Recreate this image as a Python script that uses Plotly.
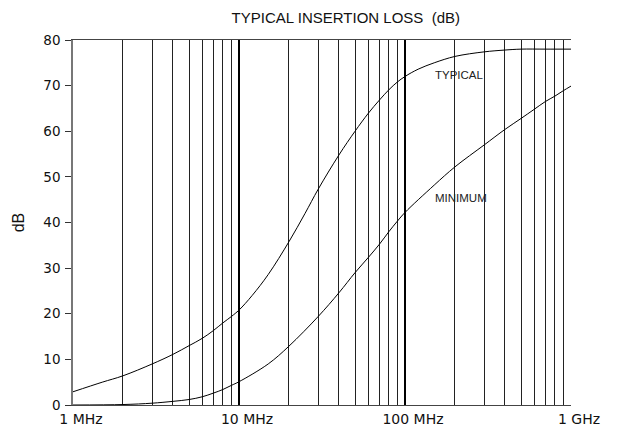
import plotly.graph_objects as go

freq_typ_mhz = [1, 1.5, 2, 3, 4, 5, 6, 7, 8, 9, 10, 12, 15, 20, 25, 30, 40, 50, 60, 70, 80, 90,
                100, 120, 150, 200, 300, 400, 500, 700, 1000]
typical_db = [2.9, 5.0, 6.4, 9.0, 11.1, 13.0, 14.6, 16.3, 18.0, 19.4, 20.8, 24.0, 28.6, 35.8,
              42.0, 47.3, 54.8, 60.0, 63.9, 66.8, 69.1, 70.8, 72.0, 73.6, 75.0, 76.4, 77.4,
              77.8, 78.0, 78.0, 78.0]

freq_min_mhz = [1, 2, 3, 4, 5, 6, 7, 8, 9, 10, 15, 20, 30, 40, 50, 60, 70, 80, 90,
                100, 150, 200, 300, 400, 500, 600, 700, 800, 900, 1000]
minimum_db = [0.0, 0.1, 0.4, 0.8, 1.2, 1.8, 2.6, 3.4, 4.3, 5.1, 9.0, 12.9, 19.4, 24.6, 29.0,
              32.3, 35.2, 38.0, 40.3, 42.2, 48.2, 52.2, 57.0, 60.4, 62.8, 64.8, 66.5, 67.7,
              68.9, 69.9]

major_ticks = [1, 10, 100, 1000]
major_labels = ["1 MHz", "10 MHz", "100 MHz", "1 GHz"]
minor_ticks = [m * d for d in (1, 10, 100) for m in range(2, 10)]

fig = go.Figure()
fig.add_trace(go.Scatter(x=freq_typ_mhz, y=typical_db, mode="lines",
                         line=dict(color="black", width=1, shape="spline", smoothing=1.0),
                         showlegend=False, hoverinfo="skip"))
fig.add_trace(go.Scatter(x=freq_min_mhz, y=minimum_db, mode="lines",
                         line=dict(color="black", width=1, shape="spline", smoothing=1.0),
                         showlegend=False, hoverinfo="skip"))

fig.add_annotation(x=2.3295, y=72.4, text="TYPICAL", showarrow=False,
                   font=dict(size=11.5, color="#222", family="Liberation Sans, Arial"))
fig.add_annotation(x=2.336, y=45.4, text="MINIMUM", showarrow=False,
                   font=dict(size=11.5, color="#222", family="Liberation Sans, Arial"))

fig.update_layout(
    width=621, height=426,
    margin=dict(l=65, r=58, t=32, b=29),
    paper_bgcolor="white", plot_bgcolor="white",
    title=dict(text="TYPICAL INSERTION LOSS  (dB)", xref="container", x=0.544,
               xanchor="center", yref="container", y=0.9765, yanchor="middle",
               font=dict(size=15, color="#111", family="Liberation Sans, Arial")),
    font=dict(family="DejaVu Sans, Verdana", color="#111"),
    xaxis=dict(type="log", range=[0, 3], tickvals=major_ticks, ticktext=major_labels,
               showgrid=True, gridcolor="black", gridwidth=2,
               showline=True, linecolor="#444", linewidth=1, mirror=True,
               ticks="", tickfont=dict(size=14), zeroline=False, automargin=False,
               ticklabelshift=8, ticklabelstandoff=1,
               minor=dict(tickvals=minor_ticks, showgrid=True, gridcolor="#222",
                          gridwidth=1, ticks="")),
    yaxis=dict(range=[0, 80], dtick=10, showgrid=False, zeroline=False,
               showline=True, linecolor="#777", linewidth=1.5, mirror=False,
               ticks="outside", ticklen=6, tickcolor="#333", tickwidth=1,
               tickfont=dict(size=13.5), automargin=False, ticklabelstandoff=2,
               title=dict(text="dB", font=dict(size=16, family="Liberation Sans, Arial"),
                          standoff=15)),
)

fig.write_html("out.html")
